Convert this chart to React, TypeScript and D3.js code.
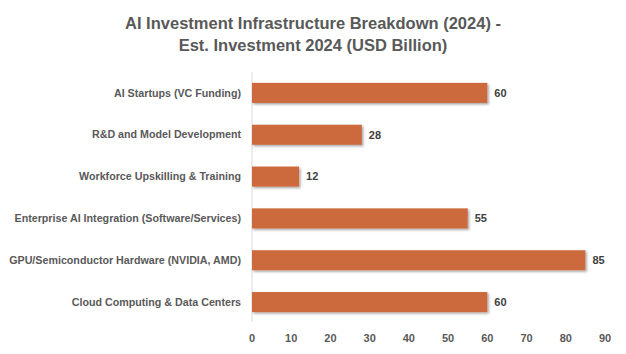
import React from "react";
import * as d3 from "d3";

const categories = [
  "AI Startups (VC Funding)",
  "R&D and Model Development",
  "Workforce Upskilling & Training",
  "Enterprise AI Integration (Software/Services)",
  "GPU/Semiconductor Hardware (NVIDIA, AMD)",
  "Cloud Computing & Data Centers",
];
const values = [60, 28, 12, 55, 85, 60];
const xTicks = [0, 10, 20, 30, 40, 50, 60, 70, 80, 90];
const titleLines = [
  "AI Investment Infrastructure Breakdown (2024) -",
  "Est. Investment 2024 (USD Billion)",
];

const W = 626;
const H = 354;
const FONT = "'Liberation Sans', Arial, sans-serif";

export default function App() {
  const x = d3.scaleLinear().domain([0, 90]).range([252, 605]);
  const y = d3.scaleBand<string>().domain(categories).range([72, 323]).paddingInner(0.52).paddingOuter(0.26);
  return (
    <svg width={W} height={H} style={{ position: "absolute", left: 0, top: 0 }}>
      <defs>
        <filter id="sh" x="-5%" y="-30%" width="115%" height="180%">
          <feDropShadow dx="1.5" dy="1.5" stdDeviation="1.2" floodColor="#000" floodOpacity="0.35" />
        </filter>
      </defs>
      <rect width={W} height={H} fill="#fff" />
      {titleLines.map((t, i) => (
        <text key={i} x={313} y={29 + i * 22} textAnchor="middle" fontFamily={FONT} fontWeight="bold" fontSize={16.5} fill="#595959">
          {t}
        </text>
      ))}
      <line x1={x(0)} x2={x(0)} y1={72} y2={322} stroke="#d9d9d9" strokeWidth={1} />
      {categories.map((c, i) => {
        const yy = y(c)!;
        const bw = y.bandwidth();
        return (
          <g key={c}>
            <rect x={x(0)} y={yy} width={x(values[i]) - x(0)} height={bw} fill="#CC6B3E" filter="url(#sh)" />
            <text x={241} y={yy + bw / 2} dy="0.35em" textAnchor="end" fontFamily={FONT} fontWeight="bold" fontSize={10.7} fill="#595959">
              {c}
            </text>
            <text x={x(values[i]) + 7} y={yy + bw / 2} dy="0.35em" fontFamily={FONT} fontWeight="bold" fontSize={11} fill="#404040">
              {values[i]}
            </text>
          </g>
        );
      })}
      {xTicks.map((t) => (
        <text key={t} x={x(t)} y={338} dy="0.35em" textAnchor="middle" fontFamily={FONT} fontWeight="bold" fontSize={11} fill="#595959">
          {t}
        </text>
      ))}
    </svg>
  );
}
